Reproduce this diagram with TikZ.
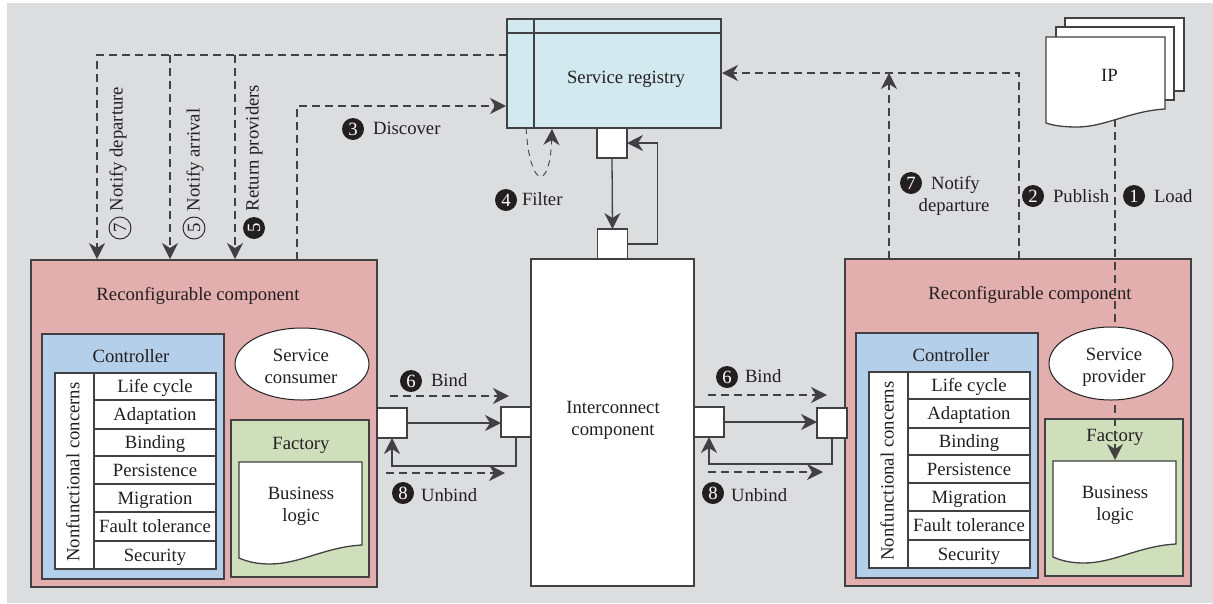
\documentclass[tikz,border=0pt]{standalone}
\usepackage{fontspec}
\setmainfont{Liberation Serif}
\usetikzlibrary{shapes.geometric,arrows.meta}
\definecolor{bggray}{HTML}{DCDDDF}
\definecolor{rcred}{HTML}{E3AFAE}
\definecolor{ctlblue}{HTML}{B4CFE9}
\definecolor{facgreen}{HTML}{CFDFBB}
\definecolor{regcyan}{HTML}{D2E9EF}
\definecolor{inkc}{HTML}{231F20}
\definecolor{linec}{HTML}{414042}
\tikzset{
  every node/.style={font=\fontsize{18.7}{22}\selectfont,text=inkc,align=center,inner sep=0pt,outer sep=0pt},
  >={Stealth[length=16pt,width=16pt,inset=5pt]},
  boxed/.style={draw=linec,line width=1.3pt,rectangle},
  portbox/.style={boxed,fill=white,minimum size=30},
  rowbox/.style={boxed,fill=white,minimum width=122,text height=14,text depth=2},
  blob/.style={draw=inkc,line width=1pt,ellipse,fill=white},
  dasharrow/.style={draw=linec,line width=1.2pt,dash pattern=on 8pt off 5pt},
  solidarrow/.style={draw=linec,line width=1.3pt},
  numdark/.style={circle,fill=inkc,text=white,minimum size=22},
  numopen/.style={circle,draw=inkc,line width=0.9pt,minimum size=22}
}
\begin{document}
\begin{tikzpicture}[x=1pt,y=-1pt]
\useasboundingbox (0,0) rectangle (1213,603);
\fill[bggray] (7,3) rectangle (1213,603);

\node[boxed,fill=regcyan,minimum width=214,minimum height=109] (registry) at (614,73.5) {};
\draw[solidarrow] (507,33) -- (721,33);
\draw[solidarrow] (534,19) -- (534,128);
\node (registrytxt) at (626,79) {Service registry};
\node[portbox,anchor=north] (portup) at (registry.south -| 612,128) {};
\node[boxed,fill=white,minimum width=163,minimum height=327] (inter) at (612.5,422.5) {};
\node (intertxt) at (613,420) {Interconnect\\component};
\node[portbox,anchor=south] (portdown) at (inter.north) {};

\foreach \sx/\sy/\side/\rcx/\ctlx/\facy in {0/0/L/198/131/445,814/-1/R/216/137/438}{
\begin{scope}[shift={(\sx,\sy)}]
\node[boxed,fill=rcred,minimum width=346,minimum height=327] (rc\side) at (204,423.5) {};
\node (rctxt\side) at (\rcx,296) {Reconfigurable component};
\node[boxed,fill=ctlblue,minimum width=182,minimum height=245] (ctl\side) at (133,456.5) {};
\node (ctltxt\side) at (\ctlx,356) {Controller};
\node[boxed,fill=white,minimum width=39,minimum height=196] (nfc\side) at (74.5,471) {};
\node[rotate=90] (nfctxt\side) at (73,472) {Nonfunctional concerns};
\foreach \yc/\rowh/\rowtxt [count=\rowi] in {386.5/27/Life cycle,414.5/29/Adaptation,442.5/27/Binding,470/28/Persistence,498/28/Migration,526.5/29/Fault tolerance,555/28/Security}
  \node[rowbox,minimum height=\rowh] (row\side\rowi) at (155,\yc) {\rowtxt};
\node[boxed,fill=facgreen,minimum width=138,minimum height=157] (fac\side) at (300,498.5) {};
\node (factxt\side) at (301,\facy) {Factory};
\draw[boxed,fill=white] (239,462) -- (362,462) -- (362,545)
  .. controls +(-37,2) and +(30,0) .. ++(-92,19)
  .. controls +(-12,0) and +(9,4) .. ++(-31,-6) -- cycle;
\node (biztxt\side) at (301,506) {Business\\logic};
\end{scope}
}

\node[boxed,fill=white,minimum width=119,minimum height=73] (ipback) at (1124.5,54.5) {};
\node[boxed,fill=white,minimum width=118,minimum height=73] (ipmid) at (1115,63.5) {};
\draw[boxed,fill=white] (1046,37) -- (1165,37) -- (1165,109)
  .. controls +(-35,2) and +(28,0) .. ++(-88,18)
  .. controls +(-12,0) and +(9,3) .. ++(-31,-4) -- cycle;
\node (iptxt) at (1109.5,75) {IP};

\coordinate (ipfoot) at (1115,119);
\coordinate (bizhead) at (1115,460);
\draw[dasharrow,->] (ipfoot) -- (bizhead);

\node[blob,minimum width=134,minimum height=72] (consumer) at (302,364) {};
\node (consumertxt) at (301,366) {Service\\consumer};
\node[blob,minimum width=124,minimum height=73] (provider) at (1111,363.5) {};
\node (providertxt) at (1114,367) {Service\\provider};

\coordinate (regnotify) at (506.7,55);
\coordinate (notifyA) at (97,259);
\coordinate (notifyB) at (170,259);
\coordinate (notifyC) at (235,259);
\coordinate (disfrom) at (297,260);
\coordinate (disto) at (506,106);
\coordinate (pubfrom) at (1019,259);
\coordinate (depfrom) at (889,259);
\coordinate (depto) at (889,73);
\coordinate (pubto) at (722,73);
\draw[dasharrow,->] (regnotify) -| (notifyA);
\draw[dasharrow,->] (notifyB |- regnotify) -- (notifyB);
\draw[dasharrow,->] (notifyC |- regnotify) -- (notifyC);
\draw[dasharrow,->] (disfrom) |- (disto);
\draw[dasharrow,->] (pubfrom) |- (pubto);
\draw[dasharrow,->] (depfrom) -- (depto);

\coordinate (filterout) at (526,128);
\coordinate (filterin) at (552,129);
\draw[draw=linec,line width=0.9pt,dash pattern=on 6pt off 5pt,->] (filterout) .. controls +(4,62) and +(-2,62) .. (filterin);

\draw[solidarrow,->] (portup.south) -- (portdown.north);
\draw[solidarrow,->] (portdown.east) -- ++(30,0) |- (portup.east);

\node[portbox] (portA) at (392,423) {};
\node[portbox] (portB) at (516,422) {};
\node[portbox] (portC) at (709,422) {};
\node[portbox] (portD) at (832,423) {};
\draw[solidarrow,->] (portA.east) -- (portB.west |- portA.east);
\draw[solidarrow,->] (portB.south) -- ++(0,29) -| (portA.south);
\draw[solidarrow,->] (portC.east) -- (portD.west |- portC.east);
\draw[solidarrow,->] (portD.south) -- ++(0,26) -| (portC.south);

\coordinate (bindAa) at (390,396);
\coordinate (bindAb) at (509,396);
\coordinate (unbindAa) at (386,473);
\coordinate (unbindAb) at (505,473);
\coordinate (bindBa) at (708,395);
\coordinate (bindBb) at (827,395);
\coordinate (unbindBa) at (708,472);
\coordinate (unbindBb) at (823,472);
\draw[dasharrow,->] (bindAa) -- (bindAb);
\draw[dasharrow,->] (unbindAa) -- (unbindAb);
\draw[dasharrow,->] (bindBa) -- (bindBb);
\draw[dasharrow,->] (unbindBa) -- (unbindBb);

\node[numopen,rotate=90] (numdepL) at (120,228) {7};
\node[rotate=90,anchor=west] (depL) at (118,211) {Notify departure};
\node[numopen,rotate=90] (numarr) at (194,228) {5};
\node[rotate=90,anchor=west] (arr) at (195,211) {Notify arrival};
\node[numdark,rotate=90] (numret) at (254,228) {5};
\node[rotate=90,anchor=west] (ret) at (254,211) {Return providers};
\node[numdark] (numdis) at (353,129) {3};
\node[anchor=west] (dis) at (373,128) {Discover};
\node[numdark] (numfil) at (506,200) {4};
\node[anchor=west] (fil) at (522,199) {Filter};
\node[numdark] (numdepR) at (911,183) {7};
\node[anchor=west] (depRa) at (931,185) {Notify};
\node (depRb) at (954,207) {departure};
\node[numdark] (numpub) at (1033,196) {2};
\node[anchor=west] (pub) at (1053,196) {Publish};
\node[numdark] (numload) at (1134,196) {1};
\node[anchor=west] (load) at (1154,196) {Load};
\node[numdark] (numbindA) at (411,381) {6};
\node[anchor=west] (bindtxtA) at (431,380) {Bind};
\node[numdark] (numunA) at (403,493) {8};
\node[anchor=west] (untxtA) at (421,495) {Unbind};
\node[numdark] (numbindB) at (727,377) {6};
\node[anchor=west] (bindtxtB) at (745,376) {Bind};
\node[numdark] (numunB) at (713,493) {8};
\node[anchor=west] (untxtB) at (731,495) {Unbind};
\end{tikzpicture}
\end{document}
